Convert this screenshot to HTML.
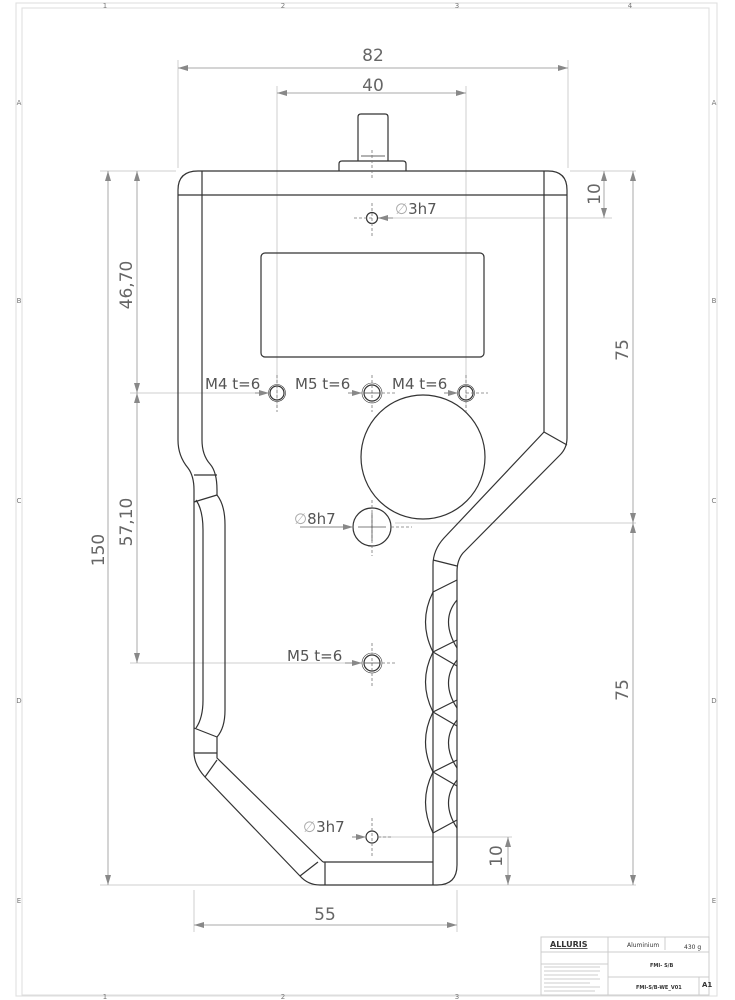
<!DOCTYPE html>
<html><head><meta charset="utf-8"><style>
html,body{margin:0;padding:0;background:#fff}
svg{display:block}
text{font-family:"DejaVu Sans","Liberation Sans",sans-serif}
</style></head><body>
<svg width="735" height="1000" viewBox="0 0 735 1000" xmlns="http://www.w3.org/2000/svg">
<defs>
<marker id="a" viewBox="0 0 10 6" refX="10" refY="3" markerWidth="10" markerHeight="6" orient="auto-start-reverse" markerUnits="userSpaceOnUse"><path d="M0,0 L10,3 L0,6z" fill="#888"/></marker>
</defs>
<!-- frame -->
<g fill="none" stroke="#ddd" stroke-width="1">
<rect x="16" y="3" width="701" height="993"/>
<rect x="22" y="8" width="687" height="987"/>
</g>
<g font-size="7" fill="#777" text-anchor="middle">
<text x="105" y="8">1</text><text x="283" y="8">2</text><text x="457" y="8">3</text><text x="630" y="8">4</text>
<text x="105" y="999">1</text><text x="283" y="999">2</text><text x="457" y="999">3</text>
<text x="19" y="105">A</text><text x="19" y="303">B</text><text x="19" y="503">C</text><text x="19" y="703">D</text><text x="19" y="903">E</text>
<text x="714" y="105">A</text><text x="714" y="303">B</text><text x="714" y="503">C</text><text x="714" y="703">D</text><text x="714" y="903">E</text>
</g>
<!-- title block -->
<g fill="none" stroke="#ccc" stroke-width="1">
<rect x="541" y="937" width="168" height="58"/>
<line x1="608" y1="937" x2="608" y2="995"/><line x1="665" y1="937" x2="665" y2="950"/>
<line x1="541" y1="952" x2="709" y2="952"/><line x1="541" y1="964" x2="608" y2="964"/>
<line x1="608" y1="977" x2="709" y2="977"/><line x1="699" y1="977" x2="699" y2="995"/>
</g>
<g fill="#333" font-family="Liberation Sans,sans-serif">
<text x="550" y="947" font-size="8" font-weight="bold" text-decoration="underline">ALLURIS</text>
<text x="627" y="947" font-size="6">Aluminium</text>
<text x="684" y="949" font-size="6">430 g</text>
<text x="650" y="967" font-size="5" font-weight="bold">FMI- S/B</text>
<text x="636" y="989" font-size="5" font-weight="bold">FMI-S/B-WE_V01</text>
<text x="702" y="987" font-size="7" font-weight="bold">A1</text>
</g>
<g stroke="#999" stroke-width="0.6">
<line x1="544" y1="967" x2="600" y2="967"/><line x1="544" y1="971" x2="600" y2="971"/><line x1="544" y1="975" x2="598" y2="975"/><line x1="544" y1="979" x2="600" y2="979"/><line x1="544" y1="983" x2="590" y2="983"/><line x1="544" y1="987" x2="600" y2="987"/><line x1="544" y1="991" x2="595" y2="991"/>
</g>

<!-- extension / center lines -->
<g stroke="#cfcfcf" stroke-width="1" fill="none">
<line x1="178" y1="60" x2="178" y2="168"/><line x1="568" y1="60" x2="568" y2="168"/>
<line x1="277" y1="86" x2="277" y2="408"/><line x1="466" y1="86" x2="466" y2="408"/>
<line x1="100" y1="171" x2="176" y2="171"/><line x1="570" y1="171" x2="636" y2="171"/>
<line x1="378" y1="218" x2="612" y2="218"/>
<line x1="130" y1="393" x2="266" y2="393"/>
<line x1="395" y1="523" x2="636" y2="523"/>
<line x1="130" y1="663" x2="362" y2="663"/>
<line x1="378" y1="837" x2="512" y2="837"/>
<line x1="100" y1="885" x2="318" y2="885"/><line x1="440" y1="885" x2="636" y2="885"/>
<line x1="194" y1="890" x2="194" y2="932"/><line x1="457" y1="890" x2="457" y2="932"/>
</g>
<!-- dimension lines -->
<g stroke="#aaa" stroke-width="1" fill="none" marker-start="url(#a)" marker-end="url(#a)">
<line x1="178" y1="68" x2="568" y2="68"/>
<line x1="277" y1="93" x2="466" y2="93"/>
<line x1="604" y1="171" x2="604" y2="218"/>
<line x1="633" y1="171" x2="633" y2="523"/>
<line x1="633" y1="523" x2="633" y2="885"/>
<line x1="508" y1="837" x2="508" y2="885"/>
<line x1="137" y1="171" x2="137" y2="393"/>
<line x1="137" y1="393" x2="137" y2="663"/>
<line x1="108" y1="171" x2="108" y2="885"/>
<line x1="194" y1="925" x2="457" y2="925"/>
</g>
<g fill="#666" font-size="17" text-anchor="middle">
<text x="373" y="61">82</text>
<text x="373" y="91">40</text>
<text x="325" y="920">55</text>
<text transform="translate(600,194) rotate(-90)">10</text>
<text transform="translate(628,350) rotate(-90)">75</text>
<text transform="translate(628,690) rotate(-90)">75</text>
<text transform="translate(502,856) rotate(-90)">10</text>
<text transform="translate(132,285) rotate(-90)">46,70</text>
<text transform="translate(132,522) rotate(-90)">57,10</text>
<text transform="translate(104,550) rotate(-90)">150</text>
</g>

<!-- body -->
<g fill="none" stroke="#333" stroke-width="1.2" stroke-linejoin="round">
<!-- pin -->
<path d="M339,171 L339,164 Q339,161 342,161 L403,161 Q406,161 406,164 L406,171"/>
<path d="M358,161 L358,117 Q358,114 361,114 L385,114 Q388,114 388,117 L388,161"/>
<line x1="361" y1="156" x2="385" y2="156" stroke-width="0.8"/>
<!-- outer -->
<path d="M198,171 L548,171 Q567,171 567,190 L567,438 Q567,448 560,455 L463,553 Q457,560 457,572 L457,865 Q457,885 437,885 L320,885 Q308,885 300,876 L205,777 Q194,765 194,752 L194,490 Q194,476 188,468 Q178,456 178,440 L178,190 Q178,171 198,171 Z"/>
<!-- inner top -->
<line x1="178" y1="195" x2="567" y2="195"/>
<line x1="202" y1="171" x2="202" y2="440"/>
<line x1="544" y1="171" x2="544" y2="432"/>
<!-- right diagonal band -->
<path d="M544,432 L444,538 Q433,550 433,565 L433,862"/>
<line x1="544" y1="432" x2="567" y2="445"/>
<line x1="433" y1="560" x2="457" y2="566"/>
<!-- left top bend -->
<path d="M202,440 Q202,455 210,464 Q217,472 217,490 L217,495"/>
<line x1="194" y1="475" x2="217" y2="475"/>
<line x1="194" y1="502" x2="217" y2="495"/>
<path d="M196,500 Q203,510 203,530 L203,700 Q203,718 196,728"/>
<path d="M217,495 Q225,505 225,525 L225,710 Q225,728 217,737"/>
<line x1="194" y1="728" x2="217" y2="737"/>
<line x1="194" y1="753" x2="217" y2="753"/>
<path d="M217,737 L217,758 L323,862"/>
<line x1="205" y1="777" x2="217" y2="760"/>
<line x1="300" y1="876" x2="318" y2="862"/>
<line x1="323" y1="862" x2="433" y2="862"/>
<line x1="325" y1="862" x2="325" y2="885"/>
<line x1="433" y1="862" x2="433" y2="885"/>
<!-- scallops -->
<path d="M433,592 Q418,622 433,652 Q418,682 433,712 Q418,742 433,772 Q418,802 433,833"/>
<path d="M457,600 Q440,620 457,648 M457,660 Q440,682 457,708 M457,720 Q440,742 457,768 M457,780 Q440,802 457,828"/>
<line x1="433" y1="592" x2="457" y2="580"/>
<line x1="433" y1="652" x2="457" y2="640"/><line x1="433" y1="652" x2="457" y2="666"/>
<line x1="433" y1="712" x2="457" y2="700"/><line x1="433" y1="712" x2="457" y2="726"/>
<line x1="433" y1="772" x2="457" y2="760"/><line x1="433" y1="772" x2="457" y2="786"/>
<line x1="433" y1="833" x2="457" y2="820"/>
<!-- display -->
<rect x="261" y="253" width="223" height="104" rx="4"/>
<!-- big circle -->
<circle cx="423" cy="457" r="62"/>
<!-- holes -->
<circle cx="372" cy="218" r="5.5"/>
<circle cx="277" cy="393" r="7"/><circle cx="277" cy="393" r="8.5" stroke-width="0.6"/>
<circle cx="372" cy="393" r="8"/><circle cx="372" cy="393" r="10" stroke-width="0.6"/>
<circle cx="466" cy="393" r="7"/><circle cx="466" cy="393" r="8.5" stroke-width="0.6"/>
<circle cx="372" cy="527" r="19"/>
<circle cx="372" cy="663" r="8"/><circle cx="372" cy="663" r="10" stroke-width="0.6"/>
<circle cx="372" cy="837" r="6"/>
</g>
<!-- center marks -->
<g stroke="#777" stroke-width="0.8" stroke-dasharray="3,2">
<line x1="372" y1="150" x2="372" y2="178"/>
<line x1="372" y1="203" x2="372" y2="237"/><line x1="354" y1="218" x2="372" y2="218"/>
<line x1="277" y1="375" x2="277" y2="412"/><line x1="466" y1="375" x2="466" y2="412"/><line x1="466" y1="393" x2="488" y2="393"/>
<line x1="372" y1="375" x2="372" y2="412"/><line x1="382" y1="393" x2="396" y2="393"/>
<line x1="372" y1="500" x2="372" y2="556"/><line x1="391" y1="527" x2="412" y2="527"/>
<line x1="372" y1="643" x2="372" y2="686"/><line x1="382" y1="663" x2="395" y2="663"/>
<line x1="372" y1="818" x2="372" y2="858"/><line x1="378" y1="837" x2="392" y2="837"/>
</g>
<g stroke="#555" stroke-width="0.8">
<line x1="358" y1="527" x2="386" y2="527"/><line x1="372" y1="513" x2="372" y2="541"/>
<line x1="364" y1="663" x2="380" y2="663"/><line x1="364" y1="393" x2="380" y2="393"/>
</g>
<!-- leaders -->
<g stroke="#888" stroke-width="1" marker-end="url(#a)">
<line x1="393" y1="218" x2="378" y2="218"/>
<line x1="255" y1="393" x2="269" y2="393"/>
<line x1="348" y1="393" x2="362" y2="393"/>
<line x1="444" y1="393" x2="458" y2="393"/>
<line x1="300" y1="527" x2="353" y2="527"/>
<line x1="345" y1="663" x2="362" y2="663"/>
<line x1="352" y1="837" x2="366" y2="837"/>
</g>
<g font-size="15" fill="#555">
<text x="395" y="214"><tspan fill="#aaa">∅</tspan>3h7</text>
<text x="205" y="389">M4 t=6</text>
<text x="295" y="389">M5 t=6</text>
<text x="392" y="389">M4 t=6</text>
<text x="294" y="524"><tspan fill="#aaa">∅</tspan>8h7</text>
<text x="287" y="661">M5 t=6</text>
<text x="303" y="832"><tspan fill="#aaa">∅</tspan>3h7</text>
</g>
</svg>
</body></html>
